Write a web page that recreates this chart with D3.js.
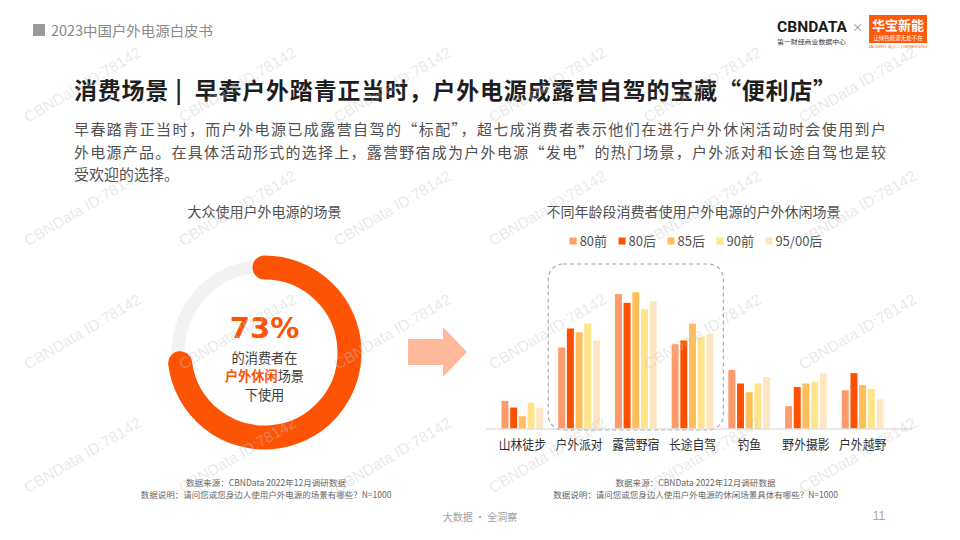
<!DOCTYPE html>
<html><head><meta charset="utf-8">
<script src="https://cdn.jsdelivr.net/npm/d3@7/dist/d3.min.js"></script>
<style>
html,body{margin:0;padding:0;background:#fff;}
svg{display:block;font-family:"Noto Sans CJK SC","Noto Sans",sans-serif;}
.pre{white-space:pre;}
</style></head>
<body>
<svg id="chart" width="960" height="540"></svg>
<script>
// ---------- data ----------
const categories = ["山林徒步","户外派对","露营野宿","长途自驾","钓鱼","野外摄影","户外越野"];
const seriesNames = ["80前","80后","85后","90前","95/00后"];
const values80q = [10.1,29.7,49.3,30.9,21.5,8.2,14.0];
const values80h = [7.7,36.7,46.1,32.3,16.5,15.2,20.3];
const values85h = [4.5,35.3,50.0,38.5,13.3,16.5,15.9];
const values90q = [9.5,38.5,43.7,33.5,16.5,17.1,14.5];
const values95h = [7.6,32.3,46.7,34.7,18.9,20.3,10.7];
const seriesColors = ["#FF9A6A","#FF5000","#FFBE58","#FFE48A","#FFE5C2"];
const highlighted = ["户外派对","露营野宿","长途自驾"];
const donutShare = [73];
const paragraphLines = [
  "早春踏青正当时，而户外电源已成露营自驾的“标配”，超七成消费者表示他们在进行户外休闲活动时会使用到户",
  "外电源产品。在具体活动形式的选择上，露营野宿成为户外电源“发电”的热门场景，户外派对和长途自驾也是较",
  "受欢迎的选择。"
];

const seriesValues = [values80q, values80h, values85h, values90q, values95h];
const rows = categories.map((c,i)=>({cat:c, vals: seriesNames.map((s,j)=>({s, v: seriesValues[j][i], c: seriesColors[j]}))}));

const svg = d3.select("#chart");
const orange = "#FD5304";

// ---------- header ----------
svg.append("rect").attr("x",33).attr("y",24).attr("width",12).attr("height",12).attr("fill","#9a9a9a");
svg.append("text").attr("x",51).attr("y",36).attr("font-size",14).attr("fill","#8a8a8a")
  .attr("textLength",162).attr("lengthAdjust","spacingAndGlyphs").text("2023中国户外电源白皮书");

// logos
svg.append("text").attr("x",777).attr("y",32).attr("font-family","Roboto, 'Liberation Sans', sans-serif")
  .attr("font-weight",700).attr("font-size",14).attr("fill","#1a1a1a")
  .attr("textLength",70).attr("lengthAdjust","spacingAndGlyphs").text("CBNDATA");
svg.append("text").attr("x",777).attr("y",43.5).attr("font-size",6).attr("fill","#333")
  .attr("textLength",69).attr("lengthAdjust","spacingAndGlyphs").text("第一财经商业数据中心");
svg.append("text").attr("x",852).attr("y",32).attr("font-size",11).attr("fill","#888").text("×");
svg.append("rect").attr("x",869).attr("y",15).attr("width",58).attr("height",28).attr("fill","#FF5A0A");
svg.append("text").attr("x",898).attr("y",29.5).attr("text-anchor","middle").attr("font-size",13).attr("font-weight",700)
  .attr("fill","#fff").text("华宝新能");
svg.append("text").attr("x",898).attr("y",39.5).attr("text-anchor","middle").attr("font-size",5.5)
  .attr("fill","#fff").text("让绿色能源无处不在");
svg.append("text").attr("x",898).attr("y",47.5).attr("text-anchor","middle").attr("font-size",4).attr("font-family","'Liberation Sans',sans-serif")
  .attr("fill","#FF5A0A").text("JACKERY 电小二 | GENERGING");

// ---------- title & paragraph ----------
svg.append("text").attr("class","pre").attr("x",74).attr("y",99).attr("font-size",23).attr("font-weight",700).attr("fill","#1e1e1e")
  .attr("textLength",762).attr("lengthAdjust","spacing")
  .text("消费场景 |  早春户外踏青正当时，户外电源成露营自驾的宝藏“便利店”");
paragraphLines.forEach((t,i)=>{
  const tx = svg.append("text").attr("x",74).attr("y",135+i*22.5).attr("font-size",15).attr("fill","#505050").text(t);
  if(i<2) tx.attr("textLength",812).attr("lengthAdjust","spacing");
});

// ---------- left: donut ----------
const cx = 264.5, cy = 352.5;
const g1 = svg.append("g").attr("transform",`translate(${cx},${cy})`);
svg.append("text").attr("x",cx).attr("y",217).attr("text-anchor","middle").attr("font-size",14).attr("fill","#505050")
  .text("大众使用户外电源的场景");
g1.append("circle").attr("r",86.5).attr("fill","none").attr("stroke","#F2F2F2").attr("stroke-width",13);
const angle = d3.scaleLinear().domain([0,100]).range([0,2*Math.PI]);
const p = d3.path();
const a0 = -Math.PI/2, a1 = -Math.PI/2 + angle(donutShare[0]);
p.arc(0,0,85,a0,a1,false);
g1.append("path").attr("d",p.toString()).attr("fill","none").attr("stroke",orange)
  .attr("stroke-width",24).attr("stroke-linecap","round");
g1.append("text").attr("y",-15).attr("text-anchor","middle").attr("font-family","'DejaVu Sans',sans-serif")
  .attr("font-weight",700).attr("font-size",29).attr("fill",orange).text(donutShare[0]+"%");
g1.append("text").attr("y",10.5).attr("text-anchor","middle").attr("font-size",13.2).attr("fill","#404040").text("的消费者在");
const t2 = g1.append("text").attr("y",28.8).attr("text-anchor","middle").attr("font-size",13.2).attr("fill","#404040");
t2.append("tspan").attr("font-weight",700).attr("fill",orange).text("户外休闲");
t2.append("tspan").text("场景");
g1.append("text").attr("y",47.1).attr("text-anchor","middle").attr("font-size",13.2).attr("fill","#404040").text("下使用");

// arrow
svg.append("path").attr("d","M408,339 L443,339 L443,327 L467,352 L443,377 L443,365 L408,365 Z").attr("fill","#FEBA9A");

// ---------- right: grouped bars ----------
const x0 = d3.scaleBand().domain(categories).range([494,891]).paddingInner(0).paddingOuter(0);
const x1 = d3.scaleBand().domain(seriesNames).range([7.5, x0.bandwidth()-7.5]).paddingInner(0.2);
const y = d3.scaleLinear().domain([0,50]).range([428.5,292.2]);

svg.append("text").attr("x",693.5).attr("y",216.5).attr("text-anchor","middle").attr("font-size",14).attr("fill","#505050")
  .text("不同年龄段消费者使用户外电源的户外休闲场景");

// legend
const lg = svg.append("g");
let lx = 0;
seriesNames.forEach((s,i)=>{
  const it = lg.append("g").attr("transform",`translate(${lx},0)`);
  it.append("rect").attr("x",0).attr("y",-8).attr("width",7).attr("height",7).attr("fill",seriesColors[i]);
  const tt = it.append("text").attr("x",10).attr("y",0).attr("font-size",13).attr("fill","#505050").text(s);
  lx += 10 + tt.node().getComputedTextLength() + 11.5;
});
lx -= 11.5;
lg.attr("transform",`translate(${696 - lx/2},245.5)`);

// highlight box
const bx0 = x0(highlighted[0]) + x1.range()[0] - 10;
const bx1 = x0(highlighted[highlighted.length-1]) + x0.bandwidth() - 7.5 + 10;
svg.append("rect").attr("x",bx0).attr("y",264).attr("width",bx1-bx0).attr("height",166)
  .attr("rx",15).attr("ry",15).attr("fill","none").attr("stroke","#a6a6a6").attr("stroke-width",1.1)
  .attr("stroke-dasharray","4,3");

const groups = svg.append("g").selectAll("g").data(rows).join("g")
  .attr("transform",d=>`translate(${x0(d.cat)},0)`);
groups.selectAll("rect").data(d=>d.vals).join("rect")
  .attr("x",d=>x1(d.s)).attr("width",x1.bandwidth())
  .attr("y",d=>y(d.v)).attr("height",d=>y(0)-y(d.v)).attr("fill",d=>d.c);

// baseline axis
const xAxis = d3.axisBottom(x0).tickSize(0).tickPadding(11);
const ax = svg.append("g").attr("transform",`translate(0,${y(0)})`).call(xAxis);
ax.select(".domain").attr("d",`M${x0.range()[0]-8},0.5H${x0.range()[1]+21}`).attr("stroke","#d4d4d4");
ax.selectAll(".tick text").attr("font-size",13).attr("fill","#303030")
  .attr("font-family","'Noto Sans CJK SC',sans-serif")
  .attr("textLength",d=>d.length*11.8).attr("lengthAdjust","spacingAndGlyphs");

// ---------- footnotes ----------
function foot(cxp, l1, l2, w1){
  svg.append("text").attr("x",cxp).attr("y",485.5).attr("text-anchor","middle").attr("font-size",8.5).attr("fill","#666")
    .attr("textLength",w1).attr("lengthAdjust","spacingAndGlyphs").text(l1);
  svg.append("text").attr("x",cxp).attr("y",497.5).attr("text-anchor","middle").attr("font-size",8.5).attr("fill","#666").text(l2);
}
foot(266,"数据来源：CBNData 2022年12月调研数据","数据说明：请问您或您身边人使用户外电源的场景有哪些？N=1000",160);
foot(695.5,"数据来源：CBNData 2022年12月调研数据","数据说明：请问您或您身边人使用户外电源的休闲场景具体有哪些？N=1000",160);
svg.append("text").attr("x",480).attr("y",521).attr("text-anchor","middle").attr("font-size",10).attr("fill","#a0a0a0").text("大数据 · 全洞察");
svg.append("text").attr("x",879).attr("y",520).attr("text-anchor","middle").attr("font-size",12).attr("fill","#a8a8a8")
  .attr("font-family","'Liberation Sans',sans-serif").text("11");

// ---------- watermarks ----------
const wmX = [28,183,338,493,648,803];
const wmY = [123,246.5,370,493.5];
const wm = svg.append("g").attr("pointer-events","none");
wmY.forEach(yy=>wmX.forEach(xx=>{
  wm.append("text").attr("transform",`translate(${xx},${yy}) rotate(-30.5)`)
    .attr("font-family","'Liberation Sans',sans-serif").attr("font-size",15.5)
    .attr("fill","#c8c8c8").attr("fill-opacity",0.4).text("CBNData ID:78142");
}));
</script>
</body></html>
